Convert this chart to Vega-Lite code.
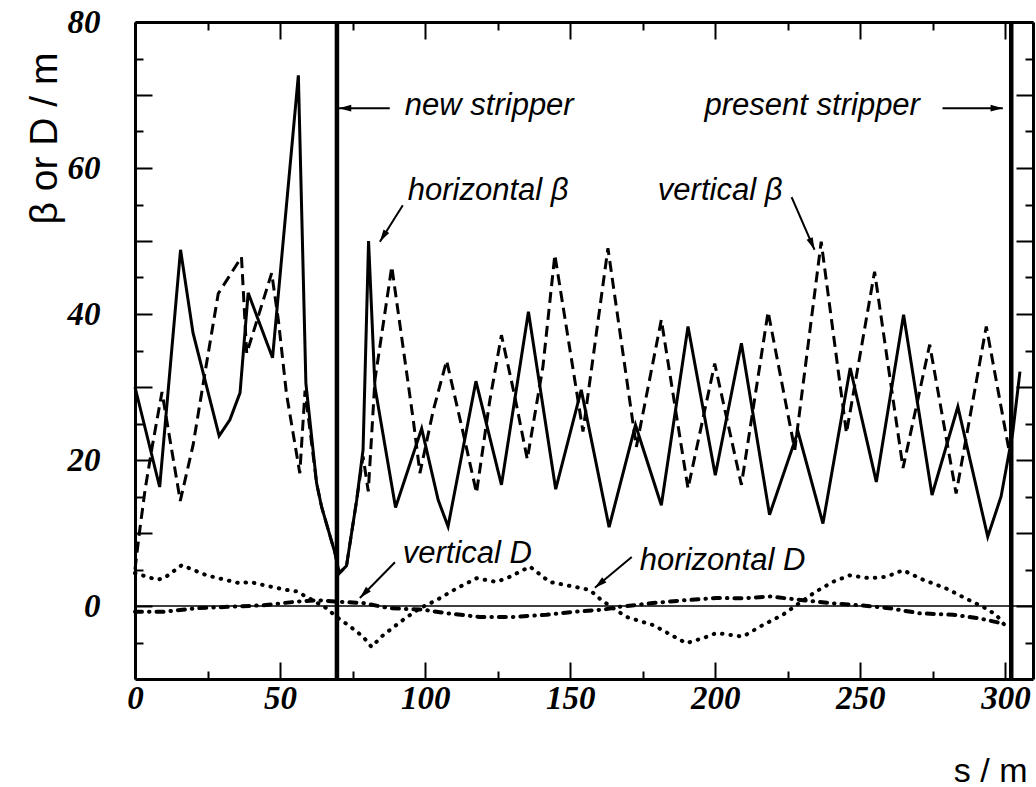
{
  "$schema": "https://vega.github.io/schema/vega-lite/v6.json",
  "width": 898,
  "height": 657,
  "autosize": {"type": "none"},
  "padding": {"left": 135, "top": 22, "right": 3, "bottom": 108},
  "background": "white",
  "config": {
    "view": {"stroke": null},
    "axis": {
      "grid": false,
      "domainColor": "black",
      "domainWidth": 3,
      "tickColor": "black",
      "tickWidth": 2,
      "labelColor": "black",
      "labelFont": "Liberation Serif",
      "labelFontStyle": "italic",
      "labelFontWeight": "bold",
      "labelFontSize": 33,
      "labelFlush": false,
      "labelOverlap": false,
      "labelBound": false,
      "titleColor": "black",
      "titleFont": "Liberation Sans",
      "titleFontWeight": "normal"
    }
  },
  "datasets": {
    "horizontalBeta": [
      {"s": 0, "value": 30}, {"s": 8.5, "value": 16.3}, {"s": 15.7, "value": 48.8}, {"s": 20, "value": 37.4},
      {"s": 29, "value": 23.3}, {"s": 32.7, "value": 25.5}, {"s": 36.2, "value": 29.2}, {"s": 39, "value": 42.9},
      {"s": 47.4, "value": 34}, {"s": 56.3, "value": 72.7}, {"s": 58.9, "value": 30.5}, {"s": 62.6, "value": 16.8},
      {"s": 64.3, "value": 13.6}, {"s": 68.9, "value": 7.3}, {"s": 70.4, "value": 4.5}, {"s": 72.9, "value": 5.5},
      {"s": 76.4, "value": 14.5}, {"s": 78.6, "value": 21.4}, {"s": 80.5, "value": 50}, {"s": 82.7, "value": 30},
      {"s": 89.8, "value": 13.5}, {"s": 98.8, "value": 24.3}, {"s": 104.5, "value": 14.5}, {"s": 107.9, "value": 10.9},
      {"s": 117.5, "value": 30.8}, {"s": 126.3, "value": 16.6}, {"s": 135.6, "value": 40.3}, {"s": 145, "value": 16},
      {"s": 153.8, "value": 29.6}, {"s": 163.4, "value": 10.8}, {"s": 172.5, "value": 24.8}, {"s": 181.4, "value": 13.8},
      {"s": 190.6, "value": 38.3}, {"s": 200, "value": 17.9}, {"s": 209, "value": 36}, {"s": 218.7, "value": 12.5},
      {"s": 228.5, "value": 23.9}, {"s": 237.1, "value": 11.3}, {"s": 246.5, "value": 32.6}, {"s": 255.5, "value": 17},
      {"s": 264.9, "value": 39.9}, {"s": 274.7, "value": 15.2}, {"s": 283.6, "value": 27.3}, {"s": 293.9, "value": 9.5},
      {"s": 298.5, "value": 15}, {"s": 302.5, "value": 23.7}, {"s": 305, "value": 32.1}
    ],
    "verticalBeta": [
      {"s": 0, "value": 5}, {"s": 1.5, "value": 10}, {"s": 3.5, "value": 16}, {"s": 6, "value": 22},
      {"s": 9.3, "value": 29.3}, {"s": 15.6, "value": 14.4}, {"s": 20, "value": 22}, {"s": 24.1, "value": 31.9},
      {"s": 28.7, "value": 42.8}, {"s": 36.7, "value": 47.8}, {"s": 38.5, "value": 34.6}, {"s": 47.1, "value": 45.6},
      {"s": 49.4, "value": 39.2}, {"s": 52.2, "value": 29.1}, {"s": 56.8, "value": 18.2}, {"s": 58.6, "value": 29.5},
      {"s": 62.6, "value": 16.8}, {"s": 64.3, "value": 13.6}, {"s": 68.9, "value": 7.3}, {"s": 70.4, "value": 4.5},
      {"s": 72.9, "value": 5.5}, {"s": 76.4, "value": 14.5}, {"s": 78.6, "value": 20.5}, {"s": 80.4, "value": 15.7},
      {"s": 82.7, "value": 31}, {"s": 88.5, "value": 46.5}, {"s": 95.9, "value": 25.5}, {"s": 98.2, "value": 18.2},
      {"s": 102.8, "value": 26.8}, {"s": 107.4, "value": 33.6}, {"s": 113.1, "value": 23.7}, {"s": 117.7, "value": 15.5},
      {"s": 122.3, "value": 28.2}, {"s": 126.3, "value": 37.1}, {"s": 130.9, "value": 28.7}, {"s": 135.2, "value": 20.1},
      {"s": 140.6, "value": 32.8}, {"s": 144.7, "value": 48.1}, {"s": 154.4, "value": 23.9}, {"s": 163, "value": 49},
      {"s": 172.8, "value": 21.8}, {"s": 181.4, "value": 39.2}, {"s": 190.6, "value": 16.1}, {"s": 199.8, "value": 33.2},
      {"s": 209, "value": 16.6}, {"s": 218.2, "value": 40.3}, {"s": 227.4, "value": 21.4}, {"s": 236.5, "value": 49.9},
      {"s": 245.2, "value": 23.7}, {"s": 254.9, "value": 45.8}, {"s": 264.7, "value": 18.9}, {"s": 273.9, "value": 35.8},
      {"s": 283, "value": 15.4}, {"s": 293.4, "value": 38.3}, {"s": 302.5, "value": 18.6}
    ],
    "horizontalD": [
      {"s": 0, "value": 4.5}, {"s": 7.5, "value": 3.6}, {"s": 10, "value": 3.8}, {"s": 16.1, "value": 5.6},
      {"s": 24.7, "value": 4.2}, {"s": 36.2, "value": 3.1}, {"s": 39.6, "value": 3.3}, {"s": 45, "value": 2.8},
      {"s": 52.2, "value": 2.2}, {"s": 55.7, "value": 2.0}, {"s": 60.3, "value": 1.0}, {"s": 66, "value": -0.3},
      {"s": 69.5, "value": -1.5}, {"s": 74.1, "value": -2.8}, {"s": 78.6, "value": -4.2}, {"s": 81.5, "value": -5.6},
      {"s": 85.5, "value": -4}, {"s": 92.4, "value": -1.9}, {"s": 98.2, "value": -0.3}, {"s": 103.9, "value": 0.8},
      {"s": 110.8, "value": 2.4}, {"s": 117.7, "value": 3.8}, {"s": 124.6, "value": 3.3}, {"s": 129.2, "value": 4},
      {"s": 136.1, "value": 5.4}, {"s": 142.9, "value": 3.3}, {"s": 151.9, "value": 2.6}, {"s": 156.7, "value": 2.2},
      {"s": 160.2, "value": 1.0}, {"s": 164.8, "value": -0.3}, {"s": 169.4, "value": -1.5}, {"s": 178.5, "value": -2.6},
      {"s": 190, "value": -5.1}, {"s": 195.8, "value": -4.4}, {"s": 200.4, "value": -3.7}, {"s": 209.5, "value": -4.2},
      {"s": 216.4, "value": -2.6}, {"s": 223.3, "value": -1.2}, {"s": 227.9, "value": 0.1}, {"s": 234.8, "value": 2.0},
      {"s": 240.5, "value": 3.3}, {"s": 246.3, "value": 4.2}, {"s": 253.2, "value": 3.8}, {"s": 258.9, "value": 4.0},
      {"s": 264.7, "value": 4.9}, {"s": 271.6, "value": 3.6}, {"s": 279.6, "value": 2.4}, {"s": 286.5, "value": 1.0},
      {"s": 292.2, "value": -0.1}, {"s": 296.8, "value": -1.2}, {"s": 299.7, "value": -2.6}
    ],
    "verticalD": [
      {"s": 0, "value": -0.8}, {"s": 9.8, "value": -0.8}, {"s": 21.3, "value": -0.3}, {"s": 32.7, "value": -0.1},
      {"s": 44.2, "value": 0.1}, {"s": 55.7, "value": 0.6}, {"s": 62.6, "value": 0.8}, {"s": 69.5, "value": 0.6},
      {"s": 78.6, "value": 0.4}, {"s": 87.8, "value": -0.3}, {"s": 99.3, "value": -0.5}, {"s": 107.4, "value": -1.0},
      {"s": 118.8, "value": -1.5}, {"s": 130.3, "value": -1.5}, {"s": 141.8, "value": -1.2}, {"s": 151, "value": -0.8},
      {"s": 161.3, "value": -0.5}, {"s": 167.1, "value": -0.1}, {"s": 178.5, "value": 0.4}, {"s": 190, "value": 0.8},
      {"s": 200.4, "value": 1.1}, {"s": 209.5, "value": 1.05}, {"s": 218.7, "value": 1.3}, {"s": 230.2, "value": 0.8},
      {"s": 239.4, "value": 0.4}, {"s": 249.7, "value": 0.1}, {"s": 260, "value": -0.3}, {"s": 270.4, "value": -1.0},
      {"s": 281.9, "value": -1.2}, {"s": 291.1, "value": -1.7}, {"s": 299.1, "value": -2.4}
    ],
    "strippers": [{"s": 69.6, "name": "new stripper"}, {"s": 302, "name": "present stripper"}],
    "baseline": [{"value": 0}],
    "notes": [
      {"s": 93, "value": 67.3, "label": "new stripper"},
      {"s": 196.3, "value": 67.3, "label": "present stripper"},
      {"s": 94, "value": 55.6, "label": "horizontal β"},
      {"s": 180.2, "value": 55.6, "label": "vertical β"},
      {"s": 92.3, "value": 5.9, "label": "vertical D"},
      {"s": 174, "value": 4.9, "label": "horizontal D"}
    ],
    "arrows": [
      {"s": 87.8, "value": 68.2, "s2": 70.3, "value2": 68.2, "heading": 180},
      {"s": 278.3, "value": 68.2, "s2": 299.1, "value2": 68.2, "heading": 0},
      {"s": 92.3, "value": 54.9, "s2": 84.4, "value2": 49.9, "heading": 121.9},
      {"s": 226.3, "value": 56.0, "s2": 234.2, "value2": 48.8, "heading": 66.5},
      {"s": 89.6, "value": 6.0, "s2": 77.5, "value2": 1.1, "heading": 134.2},
      {"s": 171.2, "value": 6.7, "s2": 158.5, "value2": 2.5, "heading": 140}
    ]
  },
  "resolve": {"axis": {"x": "independent", "y": "independent"}},
  "layer": [
    {
      "data": {"name": "horizontalBeta"},
      "mark": {"type": "line", "color": "black", "strokeWidth": 3, "strokeJoin": "miter"},
      "encoding": {
        "x": {
          "field": "s", "type": "quantitative",
          "scale": {"domain": [0, 309.5], "nice": false, "zero": false},
          "axis": {
            "orient": "bottom",
            "values": [0, 25, 50, 75, 100, 125, 150, 175, 200, 225, 250, 275, 300],
            "tickSize": {"condition": {"test": "datum.value % 50 === 0", "value": -17}, "value": -8},
            "labelExpr": "datum.value % 50 === 0 ? datum.label : ''",
            "labelPadding": 20,
            "title": "s / m",
            "titleFontSize": 34,
            "titleAnchor": null,
            "titleAngle": 0,
            "titleAlign": "right",
            "titleBaseline": "alphabetic",
            "titleX": 892,
            "titleY": 102
          }
        },
        "y": {
          "field": "value", "type": "quantitative",
          "scale": {"domain": [-10, 80], "nice": false, "zero": false},
          "axis": {
            "orient": "left",
            "values": [-5, 0, 5, 10, 15, 20, 25, 30, 35, 40, 45, 50, 55, 60, 65, 70, 75, 80],
            "tickSize": {"condition": {"test": "datum.value % 10 === 0", "value": -17}, "value": -8},
            "labelExpr": "datum.value >= 0 && datum.value % 20 === 0 ? datum.label : ''",
            "labelPadding": 52,
            "title": "β or D / m",
            "titleFontSize": 39,
            "titleAnchor": null,
            "titleAngle": -90,
            "titleAlign": "right",
            "titleBaseline": "middle",
            "titleX": -91,
            "titleY": 30
          }
        }
      }
    },
    {
      "data": {"name": "verticalBeta"},
      "mark": {"type": "line", "color": "black", "strokeWidth": 3, "strokeDash": [11, 6]},
      "encoding": {
        "x": {"field": "s", "type": "quantitative", "scale": {"domain": [0, 309.5], "nice": false, "zero": false}, "axis": null},
        "y": {"field": "value", "type": "quantitative", "scale": {"domain": [-10, 80], "nice": false, "zero": false}, "axis": null}
      }
    },
    {
      "data": {"name": "horizontalD"},
      "mark": {"type": "line", "color": "black", "strokeWidth": 4, "strokeDash": [0.5, 8], "strokeCap": "round"},
      "encoding": {
        "x": {"field": "s", "type": "quantitative", "scale": {"domain": [0, 309.5], "nice": false, "zero": false}, "axis": null},
        "y": {"field": "value", "type": "quantitative", "scale": {"domain": [-10, 80], "nice": false, "zero": false}, "axis": null}
      }
    },
    {
      "data": {"name": "verticalD"},
      "mark": {"type": "line", "color": "black", "strokeWidth": 4, "strokeDash": [7, 7, 0.5, 7], "strokeCap": "round"},
      "encoding": {
        "x": {"field": "s", "type": "quantitative", "scale": {"domain": [0, 309.5], "nice": false, "zero": false}, "axis": null},
        "y": {"field": "value", "type": "quantitative", "scale": {"domain": [-10, 80], "nice": false, "zero": false}, "axis": null}
      }
    },
    {
      "data": {"name": "baseline"},
      "mark": {"type": "rule", "color": "black", "strokeWidth": 1.5},
      "encoding": {
        "y": {"field": "value", "type": "quantitative", "scale": {"domain": [-10, 80], "nice": false, "zero": false}, "axis": null}
      }
    },
    {
      "data": {"name": "strippers"},
      "mark": {"type": "rule", "color": "black", "strokeWidth": 4.5},
      "encoding": {
        "x": {"field": "s", "type": "quantitative", "scale": {"domain": [0, 309.5], "nice": false, "zero": false}, "axis": null}
      }
    },
    {
      "data": {"name": "notes"},
      "mark": {"type": "text", "font": "Liberation Sans", "fontStyle": "italic", "fontSize": 31, "align": "left", "baseline": "alphabetic", "color": "black"},
      "encoding": {
        "x": {"field": "s", "type": "quantitative", "scale": {"domain": [0, 309.5], "nice": false, "zero": false}, "axis": null},
        "y": {"field": "value", "type": "quantitative", "scale": {"domain": [-10, 80], "nice": false, "zero": false}, "axis": null},
        "text": {"field": "label", "type": "nominal"}
      }
    },
    {
      "data": {"name": "arrows"},
      "mark": {"type": "rule", "color": "black", "strokeWidth": 2},
      "encoding": {
        "x": {"field": "s", "type": "quantitative", "scale": {"domain": [0, 309.5], "nice": false, "zero": false}, "axis": null},
        "y": {"field": "value", "type": "quantitative", "scale": {"domain": [-10, 80], "nice": false, "zero": false}, "axis": null},
        "x2": {"field": "s2"},
        "y2": {"field": "value2"}
      }
    },
    {
      "data": {"name": "arrows"},
      "mark": {"type": "point", "shape": "M0,0L-2,-0.55L-2,0.55Z", "filled": true, "color": "black", "opacity": 1, "size": 150, "strokeWidth": 0},
      "encoding": {
        "x": {"field": "s2", "type": "quantitative", "scale": {"domain": [0, 309.5], "nice": false, "zero": false}, "axis": null},
        "y": {"field": "value2", "type": "quantitative", "scale": {"domain": [-10, 80], "nice": false, "zero": false}, "axis": null},
        "angle": {"field": "heading", "type": "quantitative", "scale": null}
      }
    },
    {
      "data": {"name": "horizontalBeta"},
      "mark": {"type": "point", "opacity": 0},
      "encoding": {
        "x": {
          "field": "s", "type": "quantitative",
          "scale": {"domain": [0, 309.5], "nice": false, "zero": false},
          "axis": {
            "orient": "top",
            "values": [0, 25, 50, 75, 100, 125, 150, 175, 200, 225, 250, 275, 300],
            "tickSize": {"condition": {"test": "datum.value % 50 === 0", "value": -17}, "value": -8},
            "labels": false,
            "title": null
          }
        },
        "y": {
          "field": "value", "type": "quantitative",
          "scale": {"domain": [-10, 80], "nice": false, "zero": false},
          "axis": {
            "orient": "right",
            "values": [-5, 0, 5, 10, 15, 20, 25, 30, 35, 40, 45, 50, 55, 60, 65, 70, 75, 80],
            "tickSize": {"condition": {"test": "datum.value % 10 === 0", "value": -17}, "value": -8},
            "labels": false,
            "title": null
          }
        }
      }
    }
  ]
}
